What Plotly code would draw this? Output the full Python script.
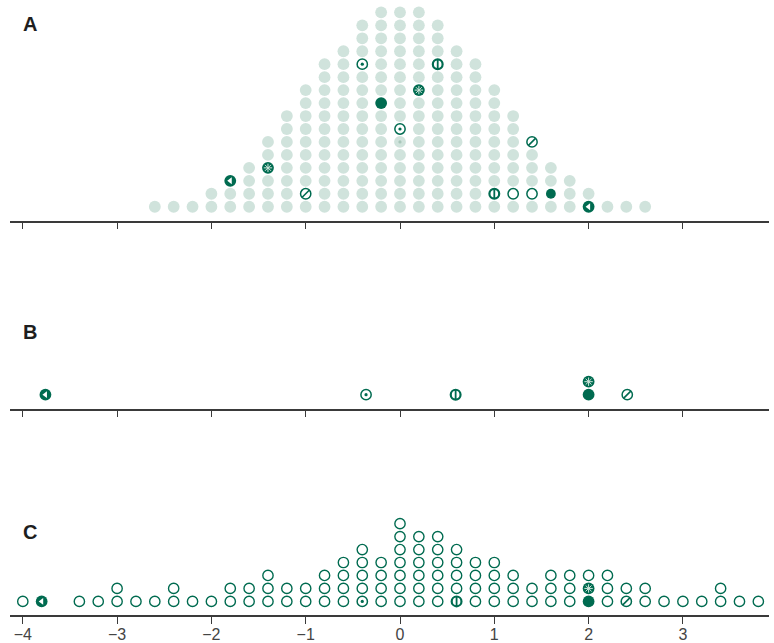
import plotly.graph_objects as go

# ---------------- data ----------------
A_bins = [-2.6, -2.4, -2.2, -2.0, -1.8, -1.6, -1.4, -1.2, -1.0, -0.8, -0.6, -0.4, -0.2,
          0.0, 0.2, 0.4, 0.6, 0.8, 1.0, 1.2, 1.4, 1.6, 1.8, 2.0, 2.2, 2.4, 2.6]
A_counts = [1, 1, 1, 2, 3, 4, 6, 8, 10, 12, 13, 15, 16,
            16, 16, 15, 13, 12, 10, 8, 6, 4, 3, 2, 1, 1, 1]
A_special_x = [-1.8, -1.4, -1.0, -0.4, -0.2, 0.0, 0.0, 0.2, 0.4, 1.0, 1.2, 1.4, 1.4, 1.6, 2.0]
A_special_row = [3, 4, 2, 12, 9, 7, 6, 10, 12, 2, 2, 2, 6, 2, 1]
A_special_kind = ["tri", "hatch", "wave", "dot", "fill", "dot", "faint", "hatch", "stripe",
                  "stripe", "open", "open", "wave", "fillsm", "tri"]

B_x = [-3.76, -0.36, 0.59, 2.0, 2.0, 2.41]
B_row = [1, 1, 1, 1, 2, 1]
B_kind = ["tri", "dot", "stripe", "fill", "hatch", "wave"]

C_bins = [-4.0, -3.8, -3.6, -3.4, -3.2, -3.0, -2.8, -2.6, -2.4, -2.2, -2.0, -1.8, -1.6, -1.4,
          -1.2, -1.0, -0.8, -0.6, -0.4, -0.2, 0.0, 0.2, 0.4, 0.6, 0.8, 1.0, 1.2, 1.4, 1.6,
          1.8, 2.0, 2.2, 2.4, 2.6, 2.8, 3.0, 3.2, 3.4, 3.6, 3.8]
C_counts = [1, 1, 0, 1, 1, 2, 1, 1, 2, 1, 1, 2, 2, 3, 2, 2, 3, 4, 5, 4,
            7, 6, 6, 5, 4, 4, 3, 2, 3, 3, 3, 3, 2, 2, 1, 1, 1, 2, 1, 1]
C_special_x = [-3.8, -0.4, 0.6, 2.0, 2.0, 2.4]
C_special_row = [1, 1, 1, 1, 2, 1]
C_special_kind = ["tri", "dot", "stripe", "fill", "hatch", "wave"]

tick_vals = [-4, -3, -2, -1, 0, 1, 2, 3]
panel_labels = ["A", "B", "C"]

# ---------------- style ----------------
DARK = "#006b50"
LIGHT = "#d0e3dc"
AXIS = "#3a3a3a"
W, H = 774, 643
SZ = 11.8

fig = go.Figure()


def expand(bins, counts, skip):
    xs, ys = [], []
    for b, c in zip(bins, counts):
        for r in range(1, c + 1):
            if (round(b, 2), r) in skip:
                continue
            xs.append(b)
            ys.append(r)
    return xs, ys


def add_special(xs, rows, kinds, xa, ya):
    def sel(k):
        px = [x for x, kk in zip(xs, kinds) if kk in k]
        py = [y for y, kk in zip(rows, kinds) if kk in k]
        return px, py

    common = dict(mode="markers", xaxis=xa, yaxis=ya, showlegend=False, hoverinfo="skip")
    # filled dark base
    px, py = sel(("fill", "tri", "hatch"))
    fig.add_trace(go.Scatter(x=px, y=py, marker=dict(symbol="circle", size=SZ, color=DARK,
                                                     line=dict(width=0)), **common))
    px, py = sel(("fillsm",))
    fig.add_trace(go.Scatter(x=px, y=py, marker=dict(symbol="circle", size=SZ - 2, color=DARK,
                                                     line=dict(width=0)), **common))
    # open base
    px, py = sel(("open", "dot", "wave"))
    fig.add_trace(go.Scatter(x=px, y=py, marker=dict(symbol="circle", size=SZ - 1.5, color="white",
                                                     line=dict(width=1.5, color=DARK)), **common))
    px, py = sel(("stripe",))
    fig.add_trace(go.Scatter(x=px, y=py, marker=dict(symbol="circle", size=SZ - 2, color="white",
                                                     line=dict(width=2.2, color=DARK)), **common))
    # inner glyphs
    px, py = sel(("tri",))
    fig.add_trace(go.Scatter(x=px, y=py, marker=dict(symbol="triangle-left", size=6, color="white",
                                                     line=dict(width=0)), **common))
    px, py = sel(("hatch",))
    fig.add_trace(go.Scatter(x=px, y=py, marker=dict(symbol="asterisk-open", size=7, color="#cfe6dc",
                                                     line=dict(width=1, color="#cfe6dc")), **common))
    px, py = sel(("dot",))
    fig.add_trace(go.Scatter(x=px, y=py, marker=dict(symbol="circle", size=3.2, color=DARK,
                                                     line=dict(width=0)), **common))
    px, py = sel(("faint",))
    fig.add_trace(go.Scatter(x=px, y=py, marker=dict(symbol="circle", size=3.2, color="#a9c7bb",
                                                     line=dict(width=0)), **common))
    px, py = sel(("wave",))
    fig.add_trace(go.Scatter(x=px, y=py, marker=dict(symbol="line-ne-open", size=7, color=DARK,
                                                     line=dict(width=1.6, color=DARK)), **common))
    px, py = sel(("stripe",))
    fig.add_trace(go.Scatter(x=px, y=py, marker=dict(symbol="line-ns-open", size=7, color=DARK,
                                                     line=dict(width=1.8, color=DARK)), **common))


# Panel A
skipA = {(round(x, 2), r) for x, r, k in zip(A_special_x, A_special_row, A_special_kind) if k != "faint"}
ax_, ay_ = expand(A_bins, A_counts, skipA)
fig.add_trace(go.Scatter(x=ax_, y=ay_, mode="markers", xaxis="x", yaxis="y", showlegend=False,
                         marker=dict(symbol="circle", size=SZ, color=LIGHT, line=dict(width=0))))
add_special(A_special_x, A_special_row, A_special_kind, "x", "y")

# Panel B
add_special(B_x, B_row, B_kind, "x2", "y2")

# Panel C
skipC = {(round(x, 2), r) for x, r in zip(C_special_x, C_special_row)}
cx_, cy_ = expand(C_bins, C_counts, skipC)
fig.add_trace(go.Scatter(x=cx_, y=cy_, mode="markers", xaxis="x3", yaxis="y3", showlegend=False,
                         marker=dict(symbol="circle", size=SZ - 1.5, color="white",
                                     line=dict(width=1.4, color=DARK))))
add_special(C_special_x, C_special_row, C_special_kind, "x3", "y3")

# ---------------- layout ----------------
L, R = 10, 5
ppu = 94.3
x0 = -(400 - L) / ppu
x1 = x0 + (W - L - R) / ppu
ROWPX = 13.1


def ydom(axis_px, top_px):
    return [1 - axis_px / H, 1 - top_px / H]


def yrng(axis_px, row1_px, top_px):
    lo = 1 - (axis_px - row1_px) / ROWPX
    hi = 1 + (row1_px - top_px) / ROWPX
    return [lo, hi]


panels = [  # axis pixel, row1 pixel, top pixel
    (223, 209, 4),
    (413, 399, 372),
    (622, 608, 519),
]

xcommon = dict(range=[x0, x1], domain=[0, 1], showline=True, linecolor=AXIS, linewidth=1.6,
               ticks="outside", ticklen=7, tickwidth=1.3, tickcolor=AXIS, tickvals=tick_vals,
               showgrid=False, zeroline=False, fixedrange=True)
ycommon = dict(showline=False, showgrid=False, zeroline=False, showticklabels=False,
               ticks="", fixedrange=True)

layout = dict(width=W, height=H, margin=dict(l=L, r=R, t=0, b=0),
              paper_bgcolor="white", plot_bgcolor="white",
              font=dict(family="Liberation Sans, Arial, sans-serif"))

for i, (axp, r1p, tp) in enumerate(panels):
    sx = "" if i == 0 else str(i + 1)
    xa = dict(xcommon, anchor="y" + sx, showticklabels=(i == 2),
              tickfont=dict(size=16, color="#444444"), ticklabelstandoff=-3)
    ya = dict(ycommon, domain=ydom(axp, tp), range=yrng(axp, r1p, tp), anchor="x" + sx)
    layout["xaxis" + sx] = xa
    layout["yaxis" + sx] = ya

label_px = [24, 336, 538]
layout["annotations"] = [
    dict(text="<b>%s</b>" % t, x=11 / W, y=1 - py / H, xref="paper", yref="paper",
         xanchor="left", yanchor="middle", showarrow=False,
         font=dict(size=20, color="#1e1e1e", family="Liberation Sans, Arial, sans-serif"))
    for t, py in zip(panel_labels, label_px)
]

fig.update_layout(**layout)
fig.write_html("out.html", config={"displayModeBar": False},
               post_script="document.body.style.margin='0';document.body.style.padding='0';"
                           "document.documentElement.style.overflow='hidden';")
